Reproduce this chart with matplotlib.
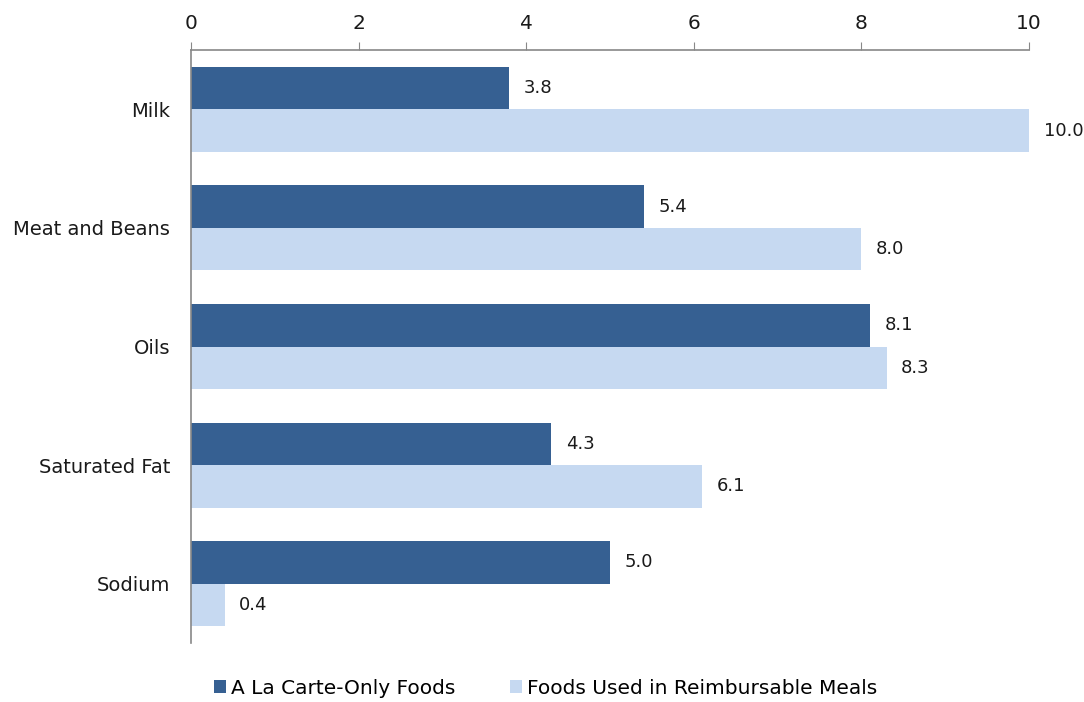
import matplotlib
matplotlib.use("Agg")
import matplotlib.pyplot as plt
import numpy as np
from matplotlib.patches import Patch

categories = ["Milk", "Meat and Beans", "Oils", "Saturated Fat", "Sodium"]
a_la_carte = [3.8, 5.4, 8.1, 4.3, 5.0]
reimbursable = [10.0, 8.0, 8.3, 6.1, 0.4]
series_names = ["A La Carte-Only Foods", "Foods Used in Reimbursable Meals"]
ticks = [0, 2, 4, 6, 8, 10]

dark = "#366092"
light = "#C6D9F1"
txt = "#1a1a1a"

plt.rcParams['font.family'] = ['DejaVu Sans']
fig = plt.figure(figsize=(10.84, 7.02), dpi=100)
ax = fig.add_axes([0.1762, 0.084, 0.9493 - 0.1762, 0.9288 - 0.084])

y = np.arange(len(categories))
h = 0.358
ax.barh(y - h / 2, a_la_carte, height=h, color=dark, label=series_names[0])
ax.barh(y + h / 2, reimbursable, height=h, color=light, label=series_names[1])

for yi, v in zip(y, a_la_carte):
    ax.annotate(f"{v:.1f}", (v, yi - h / 2), xytext=(10.5, 0), textcoords="offset points",
                va="center", ha="left", fontsize=13, color=txt)
for yi, v in zip(y, reimbursable):
    ax.annotate(f"{v:.1f}", (v, yi + h / 2), xytext=(10.5, 0), textcoords="offset points",
                va="center", ha="left", fontsize=13, color=txt)

ax.set_xlim(0, 10)
ax.set_ylim(len(categories) - 0.5, -0.5)
ax.set_xticks(ticks)
ax.set_xticklabels([str(t) for t in ticks])
ax.set_yticks(y)
ax.set_yticklabels(categories)
ax.xaxis.tick_top()
ax.tick_params(axis='x', direction='out', length=6, color='#888888', labelsize=14.5,
               labelcolor=txt, pad=6)
ax.tick_params(axis='y', length=0, labelsize=14, labelcolor=txt, pad=15)
for s in ['right', 'bottom']:
    ax.spines[s].set_visible(False)
for s in ['top', 'left']:
    ax.spines[s].set_color('#888888')
    ax.spines[s].set_linewidth(1.2)

handles = [Patch(facecolor=dark), Patch(facecolor=light)]
fig.legend(handles, series_names, loc='lower center', bbox_to_anchor=(0.503, -0.02),
           ncol=2, frameon=False, fontsize=14.5, handlelength=0.6, handleheight=0.6,
           handletextpad=0.25, columnspacing=2.7)

fig.savefig("out.png", dpi=100)
